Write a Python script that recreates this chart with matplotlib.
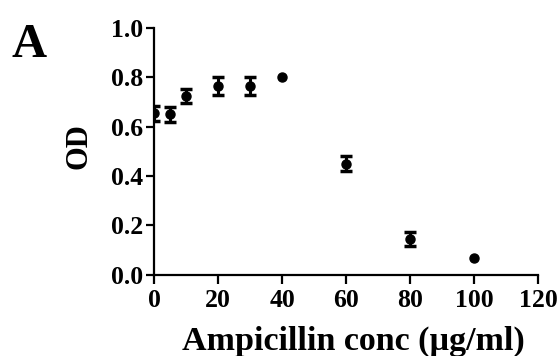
import matplotlib.pyplot as plt

# Data
conc = [0, 5, 10, 20, 30, 60, 80]
od = [0.655, 0.65, 0.725, 0.765, 0.765, 0.45, 0.145]
od_err = [0.03, 0.03, 0.03, 0.035, 0.035, 0.03, 0.03]

# points drawn without error bars
conc_single = [40, 100]
od_single = [0.80, 0.068]

xticks = [0, 20, 40, 60, 80, 100, 120]
yticks = [0.0, 0.2, 0.4, 0.6, 0.8, 1.0]

plt.rcParams["font.family"] = ["Liberation Serif", "DejaVu Serif"]
plt.rcParams["font.weight"] = "bold"

fig = plt.figure(figsize=(5.6, 3.56), dpi=100)
ax = fig.add_axes([0.275, 0.228, 0.686, 0.693])

ax.errorbar(conc, od, yerr=od_err, fmt="o", color="black", markersize=6.5,
            elinewidth=2.2, capsize=4.5, capthick=2.5)
ax.plot(conc_single, od_single, "o", color="black", markersize=6.5)

ax.set_xlim(0, 120)
ax.set_ylim(0, 1.0)
ax.set_xticks(xticks)
ax.set_yticks(yticks)
ax.set_yticklabels([f"{v:.1f}" for v in yticks])

for side in ["top", "right"]:
    ax.spines[side].set_visible(False)
for side in ["left", "bottom"]:
    ax.spines[side].set_linewidth(1.6)

ax.tick_params(axis="x", direction="out", length=6.5, width=1.6, labelsize=18.5, pad=3.5)
ax.tick_params(axis="y", direction="out", length=5.5, width=1.6, labelsize=18.5, pad=2)
for lbl in ax.get_xticklabels() + ax.get_yticklabels():
    lbl.set_fontweight("bold")

ax.set_xlabel("Ampicillin conc (µg/ml)", fontsize=24.5, fontweight="bold")
ax.set_ylabel("OD", fontsize=22, fontweight="bold")
ax.xaxis.set_label_coords(0.52, -0.27)
ax.yaxis.set_label_coords(-0.195, 0.52)
ax.xaxis.label.set_va("center")
ax.yaxis.label.set_va("center")

fig.text(0.02, 0.84, "A", fontsize=35, fontweight="bold", ha="left", va="baseline")

plt.savefig("out.png", dpi=100)
plt.close()
